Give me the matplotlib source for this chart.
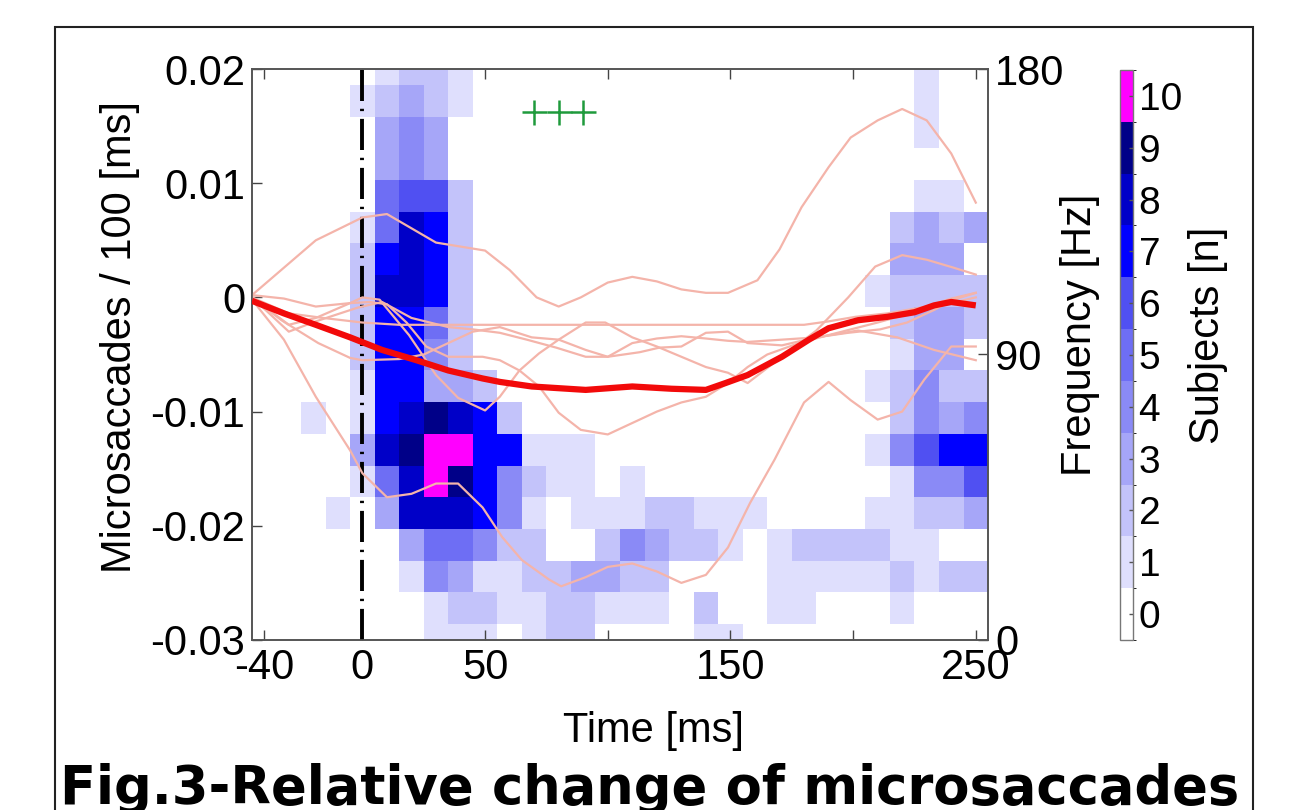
import numpy as np
import matplotlib.pyplot as plt
from matplotlib.colors import ListedColormap, BoundaryNorm
from matplotlib.patches import Rectangle

plt.rcParams['font.family'] = ['Liberation Sans', 'DejaVu Sans']

# heatmap bins: time centres (ms) and frequency centres (Hz, top row first)
time_bins = list(range(-40, 260, 10))
freq_bins = list(range(180, -10, -10))

# number of subjects per (frequency, time) bin, rows from 180 Hz down to 0 Hz
#            -40      -10  0  10 20  30  40 50 60 70 80 90 100   120   140   160   180   200   220   240 250
subject_counts = [
    [0, 0, 0, 0, 0, 1, 2, 2, 1, 0, 0, 0, 0, 0, 0, 0, 0, 0, 0, 0, 0, 0, 0, 0, 0, 0, 0, 1, 0, 0],  # 180
    [0, 0, 0, 0, 1, 2, 3, 2, 1, 0, 0, 0, 0, 0, 0, 0, 0, 0, 0, 0, 0, 0, 0, 0, 0, 0, 0, 1, 0, 0],  # 170
    [0, 0, 0, 0, 0, 3, 4, 3, 0, 0, 0, 0, 0, 0, 0, 0, 0, 0, 0, 0, 0, 0, 0, 0, 0, 0, 0, 1, 0, 0],  # 160
    [0, 0, 0, 0, 0, 3, 4, 3, 0, 0, 0, 0, 0, 0, 0, 0, 0, 0, 0, 0, 0, 0, 0, 0, 0, 0, 0, 0, 0, 0],  # 150
    [0, 0, 0, 0, 0, 5, 6, 6, 2, 0, 0, 0, 0, 0, 0, 0, 0, 0, 0, 0, 0, 0, 0, 0, 0, 0, 0, 1, 1, 0],  # 140
    [0, 0, 0, 0, 1, 5, 8, 7, 2, 0, 0, 0, 0, 0, 0, 0, 0, 0, 0, 0, 0, 0, 0, 0, 0, 0, 2, 3, 2, 3],  # 130
    [0, 0, 0, 0, 2, 7, 8, 7, 2, 0, 0, 0, 0, 0, 0, 0, 0, 0, 0, 0, 0, 0, 0, 0, 0, 0, 3, 3, 3, 0],  # 120
    [0, 0, 0, 0, 2, 8, 8, 7, 2, 0, 0, 0, 0, 0, 0, 0, 0, 0, 0, 0, 0, 0, 0, 0, 0, 1, 2, 2, 2, 2],  # 110
    [0, 0, 0, 0, 2, 7, 7, 5, 2, 0, 0, 0, 0, 0, 0, 0, 0, 0, 0, 0, 0, 0, 0, 0, 0, 0, 2, 3, 3, 2],  # 100
    [0, 0, 0, 0, 2, 7, 7, 4, 2, 0, 0, 0, 0, 0, 0, 0, 0, 0, 0, 0, 0, 0, 0, 0, 0, 0, 1, 3, 3, 0],  # 90
    [0, 0, 0, 0, 1, 7, 7, 3, 3, 2, 0, 0, 0, 0, 0, 0, 0, 0, 0, 0, 0, 0, 0, 0, 0, 1, 2, 4, 2, 2],  # 80
    [0, 0, 1, 0, 1, 7, 8, 9, 8, 7, 2, 0, 0, 0, 0, 0, 0, 0, 0, 0, 0, 0, 0, 0, 0, 0, 2, 4, 3, 4],  # 70
    [0, 0, 0, 0, 3, 8, 9, 10, 10, 7, 7, 1, 1, 1, 0, 0, 0, 0, 0, 0, 0, 0, 0, 0, 0, 1, 4, 6, 7, 7],  # 60
    [0, 0, 0, 0, 1, 5, 8, 10, 9, 7, 4, 2, 1, 1, 0, 1, 0, 0, 0, 0, 0, 0, 0, 0, 0, 0, 1, 4, 4, 6],  # 50
    [0, 0, 0, 1, 0, 3, 8, 8, 8, 7, 4, 1, 0, 1, 1, 1, 2, 2, 1, 1, 1, 0, 0, 0, 0, 1, 1, 2, 2, 3],  # 40
    [0, 0, 0, 0, 0, 0, 3, 5, 5, 4, 2, 2, 0, 0, 2, 4, 3, 2, 2, 1, 0, 1, 2, 2, 2, 2, 1, 1, 0, 0],  # 30
    [0, 0, 0, 0, 0, 0, 1, 4, 3, 1, 1, 2, 2, 3, 3, 2, 2, 0, 0, 0, 0, 1, 1, 1, 1, 1, 2, 1, 2, 2],  # 20
    [0, 0, 0, 0, 0, 0, 0, 1, 2, 2, 1, 1, 2, 2, 1, 1, 1, 0, 2, 0, 0, 1, 1, 0, 0, 0, 1, 0, 0, 0],  # 10
    [0, 0, 0, 0, 0, 0, 0, 1, 1, 1, 0, 1, 2, 2, 0, 0, 0, 0, 1, 1, 0, 0, 0, 0, 0, 0, 0, 0, 0, 0],  # 0
]

# single-subject microsaccade curves (time in ms, value in microsaccades/100 ms)
subj1_t = [-45, -19, 0, 10, 30, 50, 60, 71, 80, 89, 100, 110, 120, 130, 140, 149, 161, 170, 179, 190, 199, 210, 220, 230, 240, 250]
subj1_v = [0.0002, 0.0050, 0.0070, 0.0073, 0.0048, 0.0041, 0.0024, 0.0000, -0.0008, 0.0000, 0.0013, 0.0018, 0.0014,
           0.0007, 0.0004, 0.0004, 0.0015, 0.0042, 0.0079, 0.0114, 0.0140, 0.0155, 0.0165, 0.0155, 0.0126, 0.0083]
subj2_t = [-45, -32, -19, -5, 0, 10, 20, 30, 39, 49, 57, 65, 76, 81, 91, 100, 110, 120, 130, 140, 149, 158, 168, 180,
           190, 199, 210, 220, 229, 240, 250]
subj2_v = [-0.0002, -0.0037, -0.0087, -0.0134, -0.0154, -0.0175, -0.0172, -0.0163, -0.0163, -0.0184, -0.0210, -0.0230,
           -0.0247, -0.0253, -0.0245, -0.0236, -0.0233, -0.0240, -0.0250, -0.0243, -0.0219, -0.0180, -0.0142, -0.0092,
           -0.0074, -0.0090, -0.0107, -0.0100, -0.0072, -0.0043, -0.0043]
subj3_t = [-45, -30, -16, 0, 15, 100, 180, 190, 201, 214, 230, 240, 250]
subj3_v = [0.0000, -0.0014, -0.0018, -0.0022, -0.0024, -0.0024, -0.0024, -0.0021, -0.0017, -0.0014, -0.0008, -0.0001, 0.0004]
subj4_t = [-45, -32, -19, -5, 3, 10, 18, 26, 35, 49, 56, 64, 72, 80, 89, 100, 110, 120, 130, 140, 149, 157, 165, 178,
           190, 210, 230, 250]
subj4_v = [0.0002, -0.0001, -0.0008, -0.0005, -0.0004, -0.0006, -0.0022, -0.0043, -0.0052, -0.0052, -0.0055, -0.0064,
           -0.0078, -0.0101, -0.0116, -0.0120, -0.0110, -0.0100, -0.0092, -0.0087, -0.0075, -0.0061, -0.0050, -0.0040,
           -0.0033, -0.0022, -0.0010, 0.0000]
subj5_t = [-45, -30, -19, -5, 0, 7, 19, 30, 39, 50, 56, 64, 72, 80, 91, 99, 110, 120, 130, 140, 149, 157, 171, 185,
           198, 209, 220, 230, 241, 250]
subj5_v = [0.0000, -0.0024, -0.0018, -0.0005, 0.0000, -0.0002, -0.0033, -0.0068, -0.0088, -0.0099, -0.0087, -0.0064,
           -0.0049, -0.0037, -0.0022, -0.0022, -0.0035, -0.0043, -0.0052, -0.0061, -0.0066, -0.0075, -0.0052, -0.0029,
           0.0000, 0.0027, 0.0037, 0.0033, 0.0026, 0.0020]
subj6_t = [-45, -30, -19, -2, 8, 20, 35, 45, 56, 67, 79, 91, 100, 113, 121, 130, 140, 149, 157, 171, 185, 202, 218, 233, 250]
subj6_v = [0.0000, -0.0030, -0.0021, -0.0009, -0.0004, -0.0018, -0.0026, -0.0028, -0.0031, -0.0037, -0.0044, -0.0052,
           -0.0052, -0.0048, -0.0044, -0.0043, -0.0031, -0.0030, -0.0040, -0.0042, -0.0035, -0.0029, -0.0035, -0.0046, -0.0055]
subj7_t = [-45, -33, -18, -5, 0, 15, 25, 35, 45, 56, 69, 80, 91, 100, 110, 120, 130, 140, 149, 157, 171, 185, 198, 211,
           222, 233, 241, 250]
subj7_v = [0.0000, -0.0020, -0.0040, -0.0053, -0.0055, -0.0054, -0.0050, -0.0040, -0.0030, -0.0026, -0.0035, -0.0037,
           -0.0046, -0.0052, -0.0040, -0.0036, -0.0034, -0.0036, -0.0038, -0.0039, -0.0037, -0.0035, -0.0031, -0.0028,
           -0.0022, -0.0011, -0.0002, 0.0004]

# grand mean
mean_t = [-45, -32, -19, -5, 8, 22, 35, 49, 56, 69, 91, 110, 126, 140, 148, 157, 171, 182, 190, 202, 214, 225, 233, 240, 250]
mean_v = [-0.0003, -0.0014, -0.0024, -0.0035, -0.0046, -0.0055, -0.0064, -0.0071, -0.0074, -0.0078, -0.0081, -0.0078,
          -0.0080, -0.0081, -0.0075, -0.0068, -0.0052, -0.0037, -0.0027, -0.0020, -0.0017, -0.0013, -0.0007, -0.0004, -0.0007]

# significance markers
sig_t = [70, 80, 90]
sig_v = [0.0162, 0.0162, 0.0162]

level_colors = ['#ffffff', '#dfdffd', '#c3c3fa', '#a6a6f8', '#8a8af6', '#6e6ef4',
                '#5050f2', '#0000ff', '#0000c8', '#000088', '#ff00ff']

fig = plt.figure(figsize=(12.97, 8.10), dpi=100)
ax = fig.add_axes([0.1943, 0.2099, 0.5675, 0.7049])

cmap = ListedColormap(level_colors)
norm = BoundaryNorm(np.arange(-0.5, 11.5, 1), cmap.N)
counts = np.array(subject_counts)[::-1]
t_edges = np.append(np.array(time_bins) - 5, time_bins[-1] + 5)
f_centres = np.array(freq_bins[::-1])
f_edges = np.append(f_centres - 5, f_centres[-1] + 5)
mesh = ax.pcolormesh(t_edges, f_edges, counts, cmap=cmap, norm=norm)
ax.set_xlim(-45, 255)
ax.set_ylim(0, 180)

ax2 = ax.twinx()
ax2.set_ylim(-0.03, 0.02)
ax2.axvline(0, color='black', lw=2.8, ls=(0, (8, 2, 0.6, 2)), zorder=1)
for tt, vv in [(subj1_t, subj1_v), (subj2_t, subj2_v), (subj3_t, subj3_v), (subj4_t, subj4_v),
               (subj5_t, subj5_v), (subj6_t, subj6_v), (subj7_t, subj7_v)]:
    ax2.plot(tt, vv, color='#f4b4aa', lw=1.6, zorder=2)
ax2.plot(mean_t, mean_v, color='#f20a0a', lw=4.5, zorder=3, solid_capstyle='butt')
ax2.plot(sig_t, sig_v, ls='none', marker='+', ms=18, mew=1.8, color='#1f9a3c', zorder=4)

# axes styling: frequency on the right, microsaccade rate on the left
ax.yaxis.tick_right()
ax.yaxis.set_label_position('right')
ax2.yaxis.tick_left()
ax2.yaxis.set_label_position('left')

ax.set_xticks([-40, 0, 50, 100, 150, 200, 250])
ax.set_xticklabels(['-40', '0', '50', '', '150', '', '250'])
ax.set_yticks([0, 90, 180])
ax2.set_yticks([-0.03, -0.02, -0.01, 0, 0.01, 0.02])
ax2.set_yticklabels(['-0.03', '-0.02', '-0.01', '0', '0.01', '0.02'])

ax.tick_params(axis='x', direction='in', top=True, length=7, width=1, labelsize=30, pad=6, color='#444444')
ax.tick_params(axis='y', direction='in', left=False, right=True, length=7, width=1, labelsize=30, pad=5,
               color='#444444')
ax2.tick_params(axis='y', direction='in', left=True, right=False, length=7, width=1, labelsize=30, pad=5,
                color='#444444')
for a in (ax, ax2):
    for s in a.spines.values():
        s.set_color('#555555')
        s.set_linewidth(1.2)

ax.set_xlabel('Time [ms]', fontsize=30)
ax.xaxis.set_label_coords(0.545, -0.125)
ax.set_ylabel('Frequency [Hz]', fontsize=30)
ax.yaxis.set_label_coords(1.098, 0.534)
ax2.set_ylabel('Microsaccades / 100 [ms]', fontsize=30)
ax2.yaxis.set_label_coords(-0.152, 0.531)

# colour bar
cax = fig.add_axes([1120 / 1297, 0.2099, 13 / 1297, 0.7037])
cbar = fig.colorbar(mesh, cax=cax, ticks=range(11))
cbar.ax.tick_params(direction='in', length=3, width=1, labelsize=28, pad=4, color='#555555')
cbar.outline.set_edgecolor('#777777')
cbar.outline.set_linewidth(1)
cbar.set_label('Subjects [n]', fontsize=30)
cbar.ax.yaxis.set_label_coords(5.2, 0.535)

# figure frame and caption
fig.add_artist(Rectangle((55 / 1297, -0.02), 1198 / 1297, 0.9867, transform=fig.transFigure,
                         fill=False, edgecolor='#222222', lw=1.5))
fig.text(0.501, 0.008, 'Fig.3-Relative change of microsaccades', ha='center', va='baseline',
         fontsize=38, fontweight='bold', family='DejaVu Sans')

fig.savefig('out.png', dpi=100)
